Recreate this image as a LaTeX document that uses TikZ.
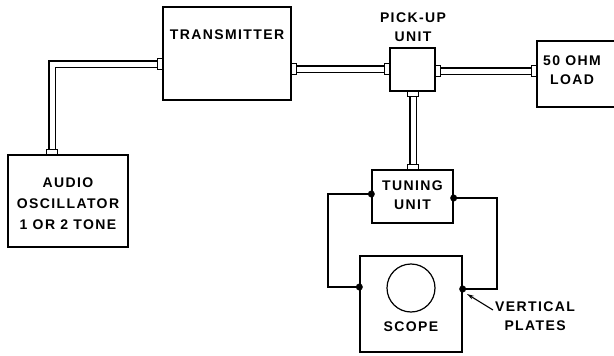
\documentclass[tikz,border=0pt]{standalone}
\usepackage{fontspec}
\setmainfont{Liberation Sans}
\newfontfamily\lblfont[LetterSpace=10]{Liberation Sans}
\usetikzlibrary{calc,arrows.meta}
\tikzset{
  box/.style={draw, line width=1.3pt, rectangle, inner sep=0pt},
  lbl/.style={font=\lblfont\bfseries\fontsize{14}{19}\selectfont, align=center, inner sep=0pt},
  cable/.style={draw, line width=1.1pt, double=white, double distance=5pt, line join=miter},
  stubv/.style={draw, fill=white, line width=1pt, minimum width=5pt, minimum height=11pt, inner sep=0pt},
  stubh/.style={draw, fill=white, line width=1pt, minimum width=11pt, minimum height=5pt, inner sep=0pt},
  wire/.style={draw, line width=1.1pt},
  dot/.style={circle, fill, inner sep=0pt, minimum size=7pt}
}
\begin{document}
\begin{tikzpicture}[x=1pt,y=-1pt]
\useasboundingbox (0,0) rectangle (614,356);
% boxes
\node[box, minimum width=128pt, minimum height=93pt] (tx) at (227,53.5) {};
\node[lbl] (txt) at (227,35) {TRANSMITTER};
\node[box, minimum width=120pt, minimum height=92pt] (ao) at (68,201) {};
\node[lbl, font=\lblfont\bfseries\fontsize{14}{21}\selectfont] (aot) at (68,204) {AUDIO\\OSCILLATOR\\1 OR 2 TONE};
\node[box, minimum width=45pt, minimum height=43pt] (pu) at (412.5,69.5) {};
\node[lbl] (put) at (413,27) {PICK-UP\\UNIT};
\node[box, minimum width=82pt, minimum height=66pt] (ld) at (578,74) {};
\node[lbl] (ldt) at (572,70) {50 OHM\\LOAD};
\node[box, minimum width=81pt, minimum height=53pt] (tu) at (412.5,196.5) {};
\node[lbl] (tut) at (412.5,195) {TUNING\\UNIT};
\node[box, minimum width=102pt, minimum height=96pt] (sc) at (411,304) {};
\node[draw, circle, line width=1.2pt, minimum size=48pt, inner sep=0pt] (crt) at (411,288) {};
\node[lbl] (sct) at (411,327) {SCOPE};
\node[lbl, anchor=west] (vp) at (495,316) {VERTICAL\\PLATES};
% cable points
\coordinate (c1a) at (tx.west |- 0,64);
\coordinate (c1b) at (52,64);
\coordinate (c1c) at (ao.north -| 52,0);
\coordinate (c2a) at (tx.east |- 0,69);
\coordinate (c2b) at (pu.west |- 0,69);
\coordinate (c3a) at (pu.east |- 0,71);
\coordinate (c3b) at (ld.west |- 0,71);
\coordinate (c4a) at (pu.south -| 413,0);
\coordinate (c4b) at (tu.north -| 413,0);
% cables
\draw[cable] ($(c1a)+(-4,0)$) -- (c1b) -- ($(c1c)+(0,-4)$);
\draw[cable] ($(c2a)+(4,0)$) -- ($(c2b)+(-4,0)$);
\draw[cable] ($(c3a)+(4,0)$) -- ($(c3b)+(-4,0)$);
\draw[cable] ($(c4a)+(0,4)$) -- ($(c4b)+(0,-4)$);
% stubs
\node[stubv] (s1) at ($(c1a)+(-2.5,0)$) {};
\node[stubh] (s2) at ($(c1c)+(0,-2.5)$) {};
\node[stubv] (s3) at ($(c2a)+(2.5,0)$) {};
\node[stubv] (s4) at ($(c2b)+(-2.5,0)$) {};
\node[stubv] (s5) at ($(c3a)+(2.5,0)$) {};
\node[stubv] (s6) at ($(c3b)+(-2.5,0)$) {};
\node[stubh] (s7) at ($(c4a)+(0,2.5)$) {};
\node[stubh] (s8) at ($(c4b)+(0,-2.5)$) {};
% wires
\node[dot] (d1) at (tu.west |- 0,194) {};
\node[dot] (d2) at (tu.east |- 0,198) {};
\node[dot] (d3) at (sc.west |- 0,287) {};
\node[dot] (d4) at (sc.east |- 0,289) {};
\coordinate (w1) at (328,194);
\coordinate (w2) at (328,287);
\coordinate (w3) at (497,198);
\coordinate (w4) at (497,289);
\draw[wire] (d1.center) -- (w1) -- (w2) -- (d3.center);
\draw[wire] (d2.center) -- (w3) -- (w4) -- (d4.center);
\coordinate (ar) at (493,310);
\draw[line width=1.1pt, -{Stealth[length=7pt,width=4pt]}] (ar) -- (467,294);
\end{tikzpicture}
\end{document}
